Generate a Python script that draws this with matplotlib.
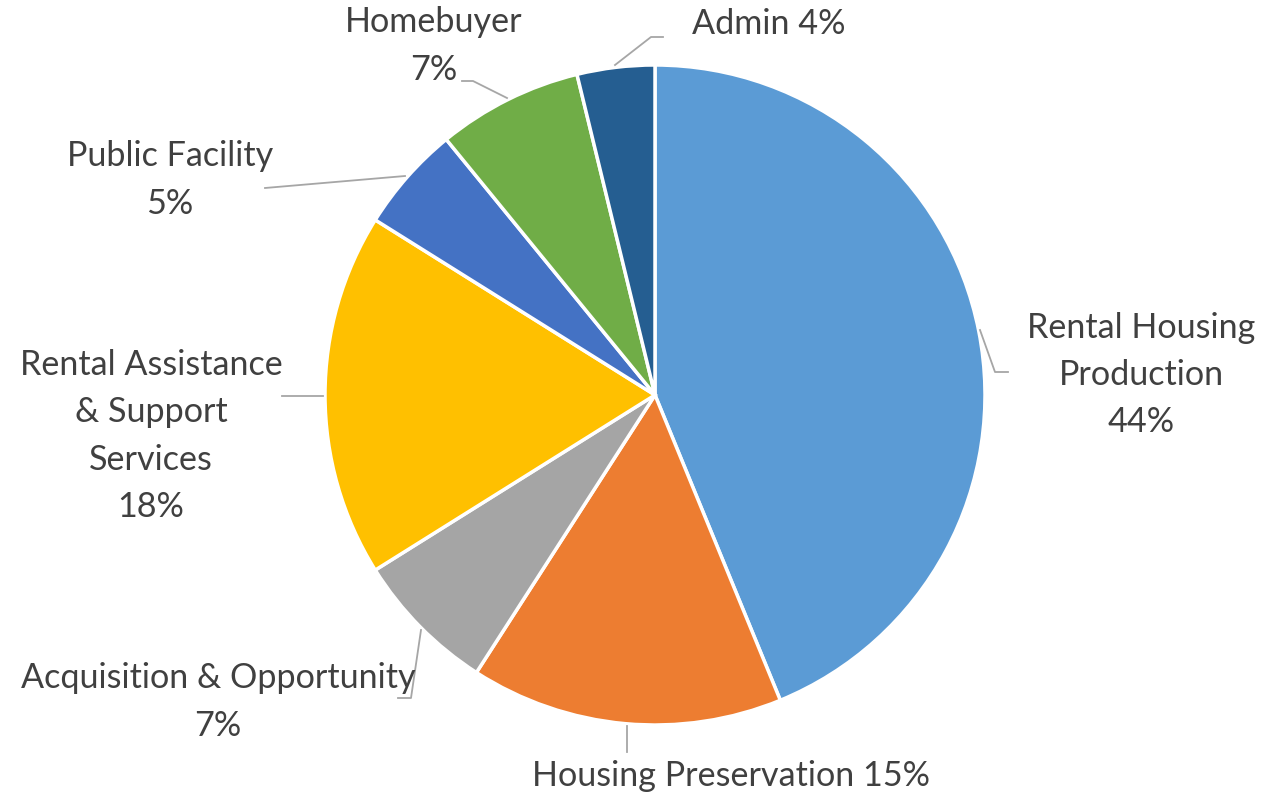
import matplotlib.pyplot as plt

# data (clockwise from 12 o'clock)
categories = ["Rental Housing\nProduction", "Housing Preservation", "Acquisition & Opportunity",
              "Rental Assistance\n& Support\nServices", "Public Facility", "Homebuyer", "Admin"]
shares = [43.8, 15.3, 7.0, 17.8, 5.2, 7.1, 3.8]
pct_labels = ["44%", "15%", "7%", "18%", "5%", "7%", "4%"]
colors = ["#5B9BD5", "#ED7D31", "#A5A5A5", "#FFC000", "#4472C4", "#70AD47", "#255E91"]

W, H = 1281, 795
TEXT = "#404040"
LINE = "#A6A6A6"

fig = plt.figure(figsize=(W / 100, H / 100), dpi=100)
ax = fig.add_axes([0, 0, 1, 1])

# pie in pixel space, y measured upward
cx, cy, r = 655, H - 395, 330
ax.pie(shares, colors=colors, startangle=90, counterclock=False,
       center=(cx, cy), radius=r,
       wedgeprops=dict(edgecolor="white", linewidth=2.5))
ax.set_xlim(0, W)
ax.set_ylim(0, H)
ax.set_aspect("equal")
ax.axis("off")

# label layout: (text centre x, y from top), single-line or stacked
label_pos = [(1141, 375), (731, 776), (218, 702), (151, 436), (170, 180), (434, 46), (769, 24)]
inline = [False, True, False, False, False, False, True]
leaders = [
    [(980, 330), (995, 372), (1008, 372)],
    [(627, 726), (627, 752)],
    [(421, 630), (411, 698), (398, 698)],
    [(323, 396), (282, 396)],
    [(405, 176), (265, 188)],
    [(507, 98), (473, 81), (462, 81)],
    [(615, 65), (651, 37), (663, 37)],
]

for cat, pct, (tx, ty), one_line, pts in zip(categories, pct_labels, label_pos, inline, leaders):
    txt = f"{cat} {pct}" if one_line else f"{cat}\n{pct}"
    ax.text(tx, H - ty, txt, ha="center", va="center", fontsize=24.6,
            family="Lato", color=TEXT, linespacing=1.58)
    xs = [p[0] for p in pts]
    ys = [H - p[1] for p in pts]
    ax.plot(xs, ys, color=LINE, linewidth=1.3)

fig.savefig("out.png", dpi=100)
